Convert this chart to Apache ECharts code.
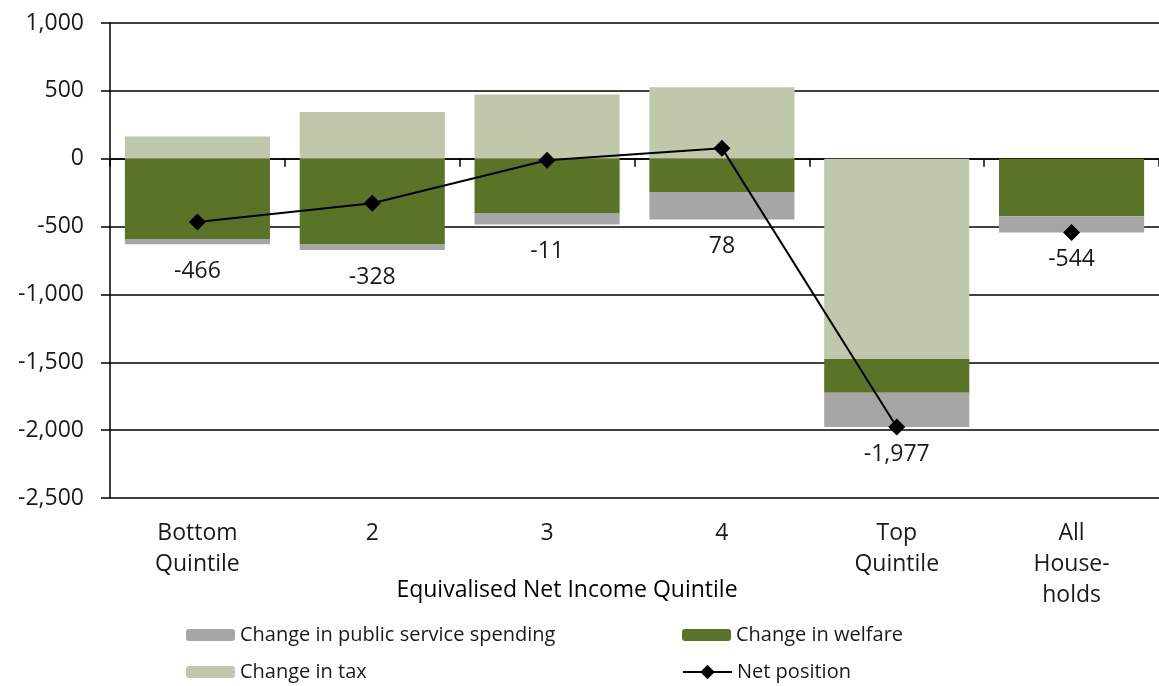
<!DOCTYPE html>
<html>
<head>
<meta charset="utf-8">
<script src="https://cdn.jsdelivr.net/npm/echarts@6/dist/echarts.min.js"></script>
<style>
  html, body { margin: 0; padding: 0; background: #fff; }
  #chart { width: 1159px; height: 686px; }
</style>
</head>
<body>
<div id="chart"></div>
<script>
// Distributional change by income quintile (£ per household)
const categories = ['Bottom\nQuintile', '2', '3', '4', 'Top\nQuintile', 'All\nHouse-\nholds'];
const changeInTax = [164, 345, 474, 526, -1475, 0];
const changeInWelfare = [-591, -628, -400, -245, -250, -424];
const changeInPublicService = [-39, -45, -85, -203, -252, -120];
const netPosition = [-466, -328, -11, 78, -1977, -544];

const FONT = 'Open Sans';
const fmt = v => Number(v).toLocaleString('en-US');
const lastIdx = netPosition.length - 1;

const chart = echarts.init(document.getElementById('chart'), null, { renderer: 'canvas' });

const legendText = { fontFamily: FONT, fontSize: 20, color: '#1a1a1a', lineHeight: 20 };
const netLabel = {
  show: true, position: 'inside', fontFamily: FONT, fontSize: 23, color: '#1a1a1a',
  formatter: p => fmt(p.value)
};

const option = {
  animation: false,
  backgroundColor: '#ffffff',
  textStyle: { fontFamily: FONT, color: '#1a1a1a' },
  grid: { left: 110, width: 1055, top: 23, bottom: 188, containLabel: false },
  legend: [
    {
      orient: 'vertical', left: 186, top: 625, padding: 0,
      itemWidth: 49, itemHeight: 12, itemGap: 17,
      data: ['Change in public service spending', 'Change in tax'],
      textStyle: legendText
    },
    {
      left: 682, top: 625, padding: 0,
      itemWidth: 49, itemHeight: 12,
      data: ['Change in welfare'],
      textStyle: legendText
    },
    {
      left: 682, top: 662, padding: 0,
      itemWidth: 49, itemHeight: 18,
      data: ['Net position'],
      textStyle: legendText
    }
  ],
  xAxis: [
    {
      // axis line and ticks sitting on zero
      type: 'category', data: categories, position: 'bottom',
      axisLine: { onZero: true, lineStyle: { color: '#000', width: 1.5 } },
      axisTick: { show: true, length: 8, lineStyle: { color: '#000', width: 1.5 } },
      axisLabel: { show: false },
      splitLine: { show: false }
    },
    {
      // category labels at the foot of the plot
      type: 'category', data: categories, position: 'bottom',
      axisLine: { show: false, onZero: false },
      axisTick: { show: false },
      axisLabel: { show: true, margin: 20, fontFamily: FONT, fontSize: 23, lineHeight: 31, color: '#1a1a1a' },
      splitLine: { show: false }
    }
  ],
  yAxis: {
    type: 'value', min: -2500, max: 1000, interval: 500,
    axisLine: { show: true, onZero: false, lineStyle: { color: '#000', width: 1.5 } },
    axisTick: { show: true, length: 9, lineStyle: { color: '#000', width: 1.5 } },
    axisLabel: { margin: 26, fontFamily: FONT, fontSize: 23, color: '#1a1a1a', formatter: fmt },
    splitLine: { show: true, lineStyle: { color: '#000', width: 1.5 } }
  },
  series: [
    {
      name: 'Change in tax', type: 'bar', stack: 'total', data: changeInTax,
      barCategoryGap: '17%', itemStyle: { color: '#bfc8aa' }
    },
    {
      name: 'Change in welfare', type: 'bar', stack: 'total', data: changeInWelfare,
      barCategoryGap: '17%', itemStyle: { color: '#5b7327' }
    },
    {
      name: 'Change in public service spending', type: 'bar', stack: 'total', data: changeInPublicService,
      barCategoryGap: '17%', itemStyle: { color: '#a6a6a6' }
    },
    {
      // quintile progression, joined by a line
      id: 'net', name: 'Net position', type: 'line', z: 5,
      data: netPosition.map((v, i) => (i < lastIdx ? v : '-')),
      connectNulls: false,
      symbol: 'diamond', symbolSize: 17,
      lineStyle: { color: '#000', width: 2 },
      itemStyle: { color: '#000' },
      label: netLabel
    },
    {
      // all-households marker stands alone
      id: 'netAll', name: 'Net position', type: 'line', z: 5,
      data: netPosition.map((v, i) => (i === lastIdx ? v : '-')),
      symbol: 'diamond', symbolSize: 17,
      lineStyle: { color: '#000', width: 2 },
      itemStyle: { color: '#000' },
      label: netLabel
    }
  ],
  graphic: [{
    type: 'text', x: 567, y: 579,
    style: { text: 'Equivalised Net Income Quintile', font: '23px "Open Sans"', fill: '#000', align: 'center' }
  }]
};

chart.setOption(option);

// Place each net-position label just under the lowest edge of its stacked bar
const placed = netPosition.map((v, i) => {
  const low = [changeInTax, changeInWelfare, changeInPublicService]
    .reduce((s, arr) => s + Math.min(0, arr[i]), 0);
  const pLow = chart.convertToPixel({ yAxisIndex: 0 }, low);
  const pNet = chart.convertToPixel({ yAxisIndex: 0 }, v);
  return { value: v, label: { offset: [0, pLow + 27 - pNet] } };
});
chart.setOption({
  series: [
    { id: 'net', data: placed.map((d, i) => (i < lastIdx ? d : '-')) },
    { id: 'netAll', data: placed.map((d, i) => (i === lastIdx ? d : '-')) }
  ]
});
</script>
</body>
</html>
